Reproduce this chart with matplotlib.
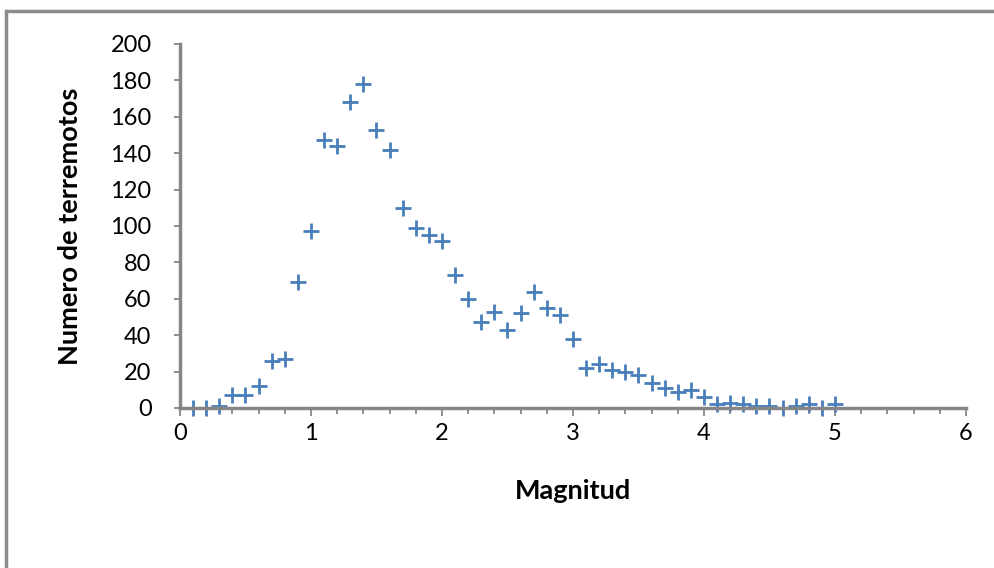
import numpy as np
import matplotlib
matplotlib.use("Agg")
import matplotlib.pyplot as plt
from matplotlib.patches import Rectangle
from matplotlib.ticker import MultipleLocator

magnitud = [0.1, 0.2, 0.3, 0.4, 0.5, 0.6, 0.7, 0.8, 0.9, 1.0,
            1.1, 1.2, 1.3, 1.4, 1.5, 1.6, 1.7, 1.8, 1.9, 2.0,
            2.1, 2.2, 2.3, 2.4, 2.5, 2.6, 2.7, 2.8, 2.9, 3.0,
            3.1, 3.2, 3.3, 3.4, 3.5, 3.6, 3.7, 3.8, 3.9, 4.0,
            4.1, 4.2, 4.3, 4.4, 4.5, 4.6, 4.7, 4.8, 4.9, 5.0]
terremotos = [0, 0, 1, 7, 7, 12, 26, 27, 69, 97,
              147, 144, 168, 178, 153, 142, 110, 99, 95, 92,
              73, 60, 47, 53, 43, 52, 64, 55, 51, 38,
              22, 24, 21, 20, 18, 14, 11, 9, 10, 6,
              2, 3, 2, 1, 1, 0, 1, 2, 0, 2]

plt.rcParams['font.family'] = ['Lato', 'DejaVu Sans']

fig = plt.figure(figsize=(9.95, 5.68), dpi=100)
ax = fig.add_axes([180/995, 1 - 408/568, (966 - 180)/995, (408 - 44)/568])

ax.plot(magnitud, terremotos, linestyle='none', marker='+', markersize=11,
        markeredgewidth=2, color='#4a7ebb', clip_on=False)

ax.set_xlim(0, 6)
ax.set_ylim(0, 200)
ax.xaxis.set_major_locator(MultipleLocator(1))
ax.xaxis.set_minor_locator(MultipleLocator(0.2))
ax.yaxis.set_major_locator(MultipleLocator(20))

for s in ['top', 'right']:
    ax.spines[s].set_visible(False)
for s in ['left', 'bottom']:
    ax.spines[s].set_color('#868686')
    ax.spines[s].set_linewidth(2.5)

ax.tick_params(axis='both', which='both', direction='out', color='#868686', width=1.3)
ax.tick_params(axis='x', which='major', length=6, pad=5, labelsize=17)
ax.tick_params(axis='x', which='minor', length=4)
ax.tick_params(axis='y', which='major', length=4.5, pad=16, labelsize=17)

ax.set_xlabel('Magnitud', fontsize=19.5, fontweight='bold', labelpad=25)
ax.set_ylabel('Numero de terremotos', fontsize=19.5, fontweight='bold', labelpad=20)

# chart frame (cut off at the bottom and right)
fig.patches.append(Rectangle((6/995, -0.1), 1.2, 1.1 - 11/568, transform=fig.transFigure,
                             fill=False, edgecolor='#8c8c8c', linewidth=2.5))

fig.savefig('out.png', dpi=100)
